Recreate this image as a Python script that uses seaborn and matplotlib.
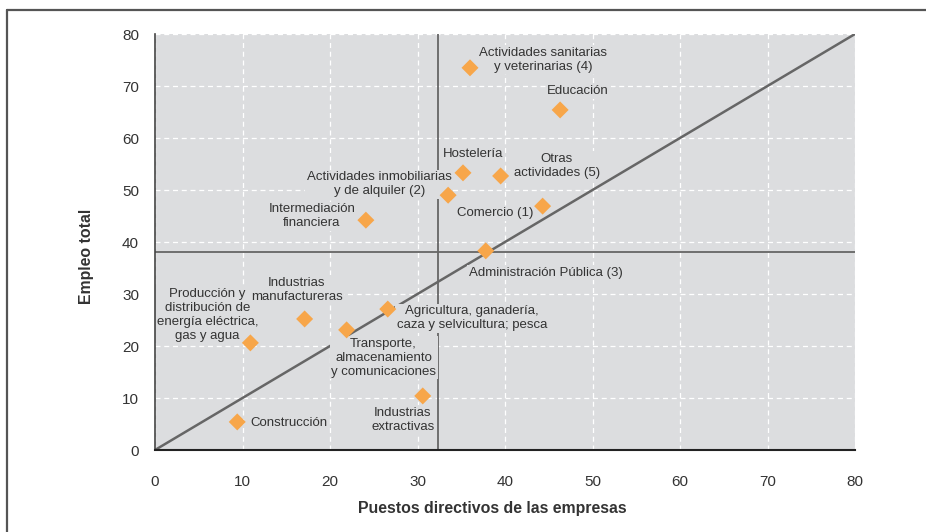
import pandas as pd
import seaborn as sns
import matplotlib.pyplot as plt
from matplotlib.lines import Line2D

sns.set_style("whitegrid", {"axes.facecolor": "#dcdddf",
                            "grid.color": "white",
                            "grid.linestyle": (0, (4, 3))})
plt.rcParams["font.family"] = ["Liberation Sans", "DejaVu Sans"]

# datos
sectores = ["Actividades sanitarias\ny veterinarias (4)", "Educación", "Hostelería",
            "Otras\nactividades (5)", "Actividades inmobiliarias\ny de alquiler (2)",
            "Comercio (1)", "Intermediación\nfinanciera", "Administración Pública (3)",
            "Agricultura, ganadería,\ncaza y selvicultura; pesca", "Industrias\nmanufactureras",
            "Transporte,\nalmacenamiento\ny comunicaciones",
            "Producción y\ndistribución de\nenergía eléctrica,\ngas y agua",
            "Industrias\nextractivas", "Construcción"]
puestos_directivos = [36.0, 46.3, 35.2, 39.5, 33.5, 44.3, 24.1, 37.8, 26.6, 17.1, 21.9, 10.9, 30.6, 9.4]
empleo_total = [73.5, 65.4, 53.3, 52.7, 49.0, 46.9, 44.2, 38.3, 27.1, 25.2, 23.1, 20.6, 10.4, 5.4]
media_x = 32.3
media_y = 38.1

# desplazamiento de cada etiqueta (pixeles)
desplazamientos = [(73, 8), (18, 19), (10, 19), (56, 10), (-69, 11), (-47, -7), (-54, 4),
                   (60, -22), (84, -9), (-8, 29), (37, -28), (-43, 28), (-20, -24), (52, -1)]

df = pd.DataFrame({"sector": sectores, "x": puestos_directivos, "y": empleo_total})

fig = plt.figure(figsize=(9.26, 5.32), dpi=100)
ax = fig.add_axes([155 / 926, 1 - 450 / 532, 700 / 926, 416 / 532])

sns.scatterplot(data=df, x="x", y="y", marker="D", s=75, color="#f7a64a",
                edgecolor="none", ax=ax, zorder=6)

gris = "#666666"
ax.plot([0, 80], [0, 80], color=gris, lw=1.8, zorder=4)
ax.axhline(media_y, color=gris, lw=1.3, zorder=4)
ax.axvline(media_x, color=gris, lw=1.3, zorder=4)

# primero los fondos (tapan lineas), luego los textos encima
for fondo in [True, False]:
    for (sx, sy, txt), (dx, dy) in zip(zip(df.x, df.y, df.sector), desplazamientos):
        ax.annotate(txt, (sx, sy), xytext=(dx, dy), textcoords="offset pixels",
                    ha="center", va="center", multialignment="center", fontsize=9.5,
                    color="none" if fondo else "#333333", linespacing=1.22,
                    zorder=4.5 if fondo else 5,
                    bbox=dict(boxstyle="square,pad=0.12", fc="#dcdddf", ec="none") if fondo else None)

ax.set_xlim(0, 80)
ax.set_ylim(0, 80)
ax.set_xticks(range(0, 81, 10))
ax.set_yticks(range(0, 81, 10))
ax.grid(True, lw=0.9)
ax.set_axisbelow(True)
for lado in ["top", "right"]:
    ax.spines[lado].set_visible(False)
ax.spines["left"].set_color("#444444")
ax.spines["bottom"].set_color("#222222")
ax.spines["left"].set_linewidth(1.2)
ax.spines["bottom"].set_linewidth(1.5)
for lado in ["left", "bottom"]:
    ax.spines[lado].set_zorder(7)
ax.tick_params(axis="both", direction="out", length=6, width=1, color="#555555",
               labelsize=11, labelcolor="#333333", pad=5.5)
ax.tick_params(axis="x", length=6, pad=12)

ax.set_xlabel("Puestos directivos de las empresas", fontsize=11.4, fontweight="bold",
              color="#333333")
ax.set_ylabel("Empleo total", fontsize=11.4, fontweight="bold", color="#333333")
ax.xaxis.set_label_coords((492 - 155) / 700, -0.123)
ax.yaxis.set_label_coords(-0.087, (450 - 256) / 416)

# marco exterior
fig.add_artist(Line2D([7 / 926, 1], [1 - 10 / 532] * 2, color="#555555", lw=1.6))
fig.add_artist(Line2D([7 / 926] * 2, [0, 1 - 10 / 532], color="#555555", lw=1.6))

plt.savefig("out.png", dpi=100)
